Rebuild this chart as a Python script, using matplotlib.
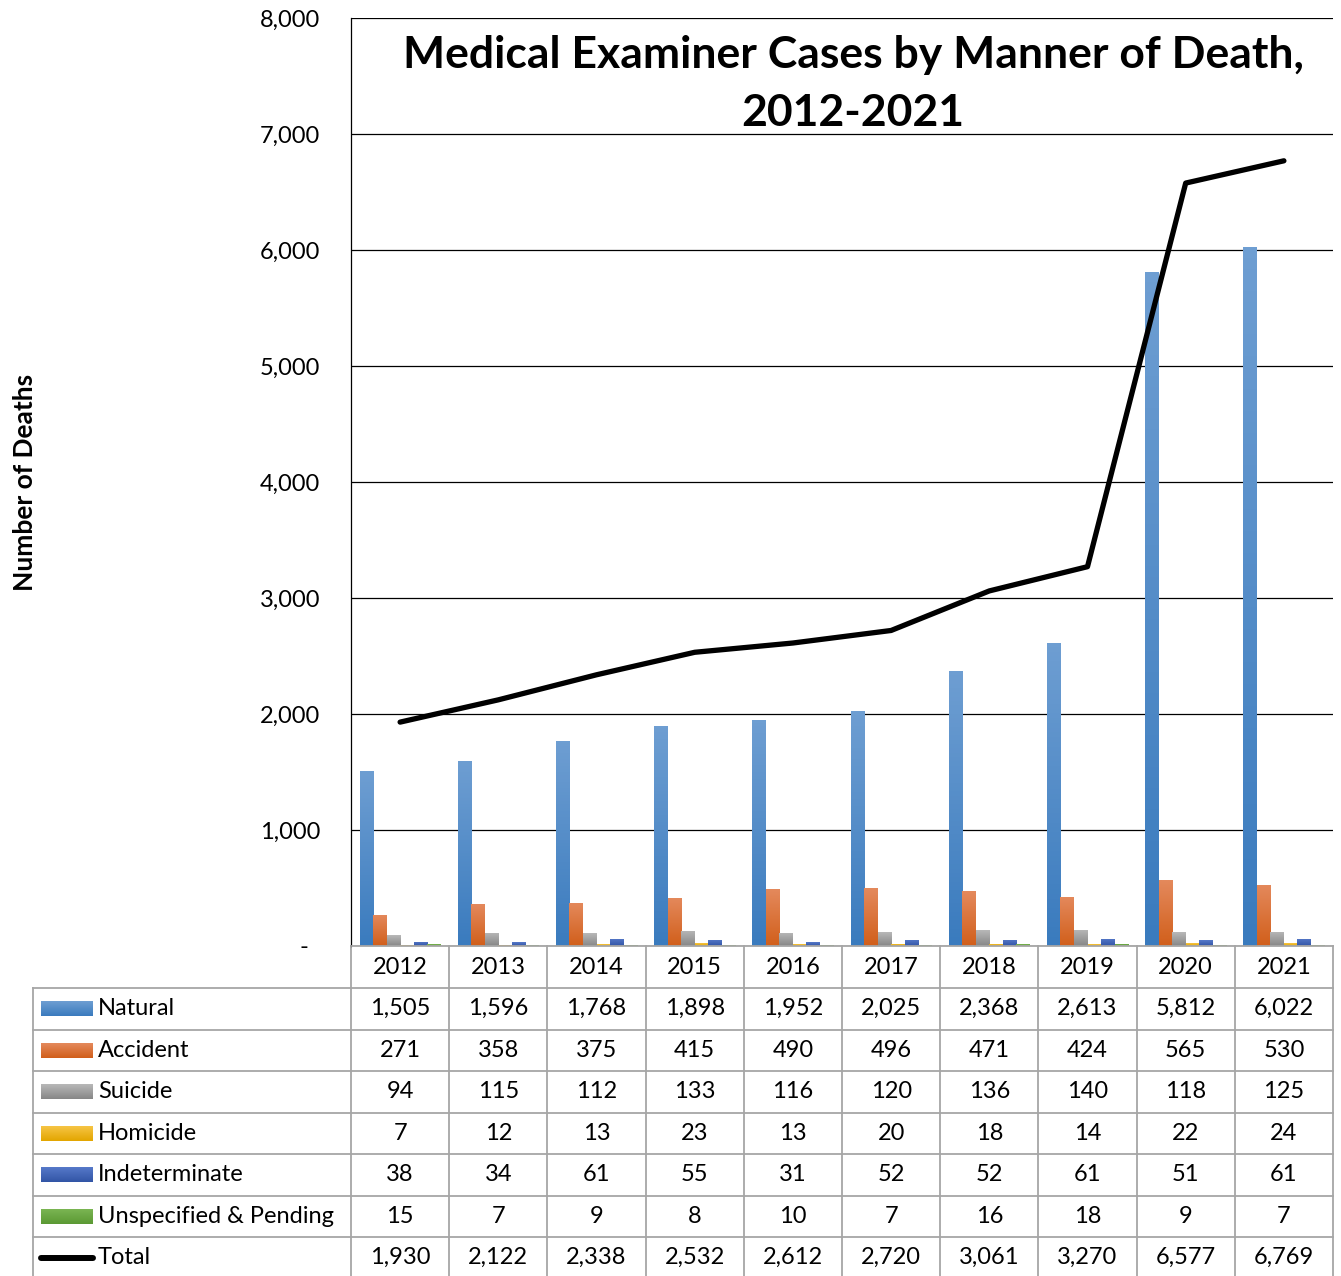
import matplotlib
matplotlib.use("Agg")
import matplotlib.pyplot as plt
import matplotlib.transforms as mtransforms
from matplotlib.colors import LinearSegmentedColormap
import numpy as np

plt.rcParams['font.family'] = ['Lato', 'DejaVu Sans']

# data
years = [2012, 2013, 2014, 2015, 2016, 2017, 2018, 2019, 2020, 2021]
natural = [1505, 1596, 1768, 1898, 1952, 2025, 2368, 2613, 5812, 6022]
accident = [271, 358, 375, 415, 490, 496, 471, 424, 565, 530]
suicide = [94, 115, 112, 133, 116, 120, 136, 140, 118, 125]
homicide = [7, 12, 13, 23, 13, 20, 18, 14, 22, 24]
indeterminate = [38, 34, 61, 55, 31, 52, 52, 61, 51, 61]
unspecified = [15, 7, 9, 8, 10, 7, 16, 18, 9, 7]
total = [1930, 2122, 2338, 2532, 2612, 2720, 3061, 3270, 6577, 6769]

series_names = ['Natural', 'Accident', 'Suicide', 'Homicide', 'Indeterminate',
                'Unspecified & Pending']
series_vals = [natural, accident, suicide, homicide, indeterminate, unspecified]
# (top colour, bottom colour) for the gradient fill
series_cols = [('#6E9ED2', '#3A7BBE'),
               ('#E4895C', '#D15F1B'),
               ('#B8B8B8', '#878787'),
               ('#F6C444', '#E3A600'),
               ('#5679C9', '#3255A6'),
               ('#7AB552', '#5B9934')]

FS = 17

W, H = 1341, 1276
fig = plt.figure(figsize=(W / 100, H / 100), dpi=100)

# axes placed in pixel units
left, right, top, bottom = 351, 1333, 18, 946
ax = fig.add_axes([left / W, 1 - bottom / H, (right - left) / W, (bottom - top) / H])

x = np.arange(len(years))
bw = 0.1375
nser = len(series_vals)


def grad_bar(ax, xc, h, w, ctop, cbot):
    bar = ax.bar(xc, h, w, color='none', edgecolor='none', zorder=2)[0]
    cmap = LinearSegmentedColormap.from_list('g', [cbot, ctop])
    grad = np.linspace(0, 1, 64).reshape(-1, 1)
    im = ax.imshow(grad, cmap=cmap, origin='lower', aspect='auto',
                   extent=[xc - w / 2, xc + w / 2, 0, h], zorder=2)
    im.set_clip_path(bar)


for i, (vals, cols) in enumerate(zip(series_vals, series_cols)):
    off = (i - (nser - 1) / 2) * bw
    for xi, v in zip(x, vals):
        grad_bar(ax, xi + off, v, bw, cols[0], cols[1])

ax.plot(x, total, color='black', lw=3.8, solid_capstyle='round', zorder=4)

ax.set_xlim(-0.5, len(years) - 0.5)
ax.set_ylim(0, 8000)
ax.set_yticks(range(0, 8001, 1000))
ax.set_yticklabels(['-  '] + [f'{v:,}' for v in range(1000, 8001, 1000)])
ax.tick_params(axis='y', length=0, pad=22, labelsize=FS)
ax.set_xticks([])
ax.yaxis.grid(True, color='black', lw=0.9)
ax.set_axisbelow(True)
for s in ['top', 'right', 'bottom']:
    ax.spines[s].set_visible(False)
ax.spines['left'].set_color('black')
ax.spines['left'].set_linewidth(0.9)
ax.set_ylabel('Number of Deaths', fontsize=19, fontweight='bold')
ax.yaxis.label.set_va('center')
ax.yaxis.set_label_coords((25 - left) / (right - left), 0.5)

fig.text(853 / W, 1 - 55 / H, 'Medical Examiner Cases by Manner of Death,',
         ha='center', va='center', fontsize=32, fontweight='bold')
fig.text(853 / W, 1 - 113 / H, '2012-2021',
         ha='center', va='center', fontsize=32, fontweight='bold')

# data table under the chart: x from data coords, y in figure pixels
tax = fig.add_axes([0, 0, 1, 1], facecolor='none')
tax.set_xlim(0, W)
tax.set_ylim(H, 0)
tax.axis('off')
tr = mtransforms.blended_transform_factory(ax.transData, tax.transData)

gcol = '#A6A6A6'
glw = 1.3
row_top = 988
row_h = 41.5
nrows = nser + 1

# year header row
tax.plot([left, right], [bottom, bottom], color=gcol, lw=glw, clip_on=False)
for b in np.arange(len(years) + 1) - 0.5:
    ax.plot([b, b], [bottom, row_top + nrows * row_h + 5], color=gcol, lw=glw,
            transform=tr, clip_on=False)
for xi, yr in zip(x, years):
    tax.text(xi, 967, str(yr), transform=tr, ha='center', va='center', fontsize=FS)

# row lines
for r in range(nrows):
    y0 = row_top + r * row_h
    tax.plot([33, right], [y0, y0], color=gcol, lw=glw)
tax.plot([33, 33], [row_top, H + 5], color=gcol, lw=glw)

row_names = series_names + ['Total']
row_vals = series_vals + [total]
for r, (name, vals) in enumerate(zip(row_names, row_vals)):
    yc = row_top + (r + 0.5) * row_h
    if r < nser:
        ctop, cbot = series_cols[r]
        cmap = LinearSegmentedColormap.from_list('k', [ctop, cbot])
        tax.imshow(np.linspace(0, 1, 32).reshape(-1, 1), cmap=cmap, aspect='auto',
                   extent=[41, 93, yc + 7.5, yc - 7.5], zorder=3)
    else:
        tax.plot([41, 93], [yc, yc], color='black', lw=4.3, solid_capstyle='round')
    tax.text(98, yc, name, ha='left', va='center', fontsize=FS)
    for xi, v in zip(x, vals):
        tax.text(xi, yc, f'{v:,}', transform=tr, ha='center', va='center', fontsize=FS)

tax.set_xlim(0, W)
tax.set_ylim(H, 0)

fig.savefig('out.png', dpi=100)
